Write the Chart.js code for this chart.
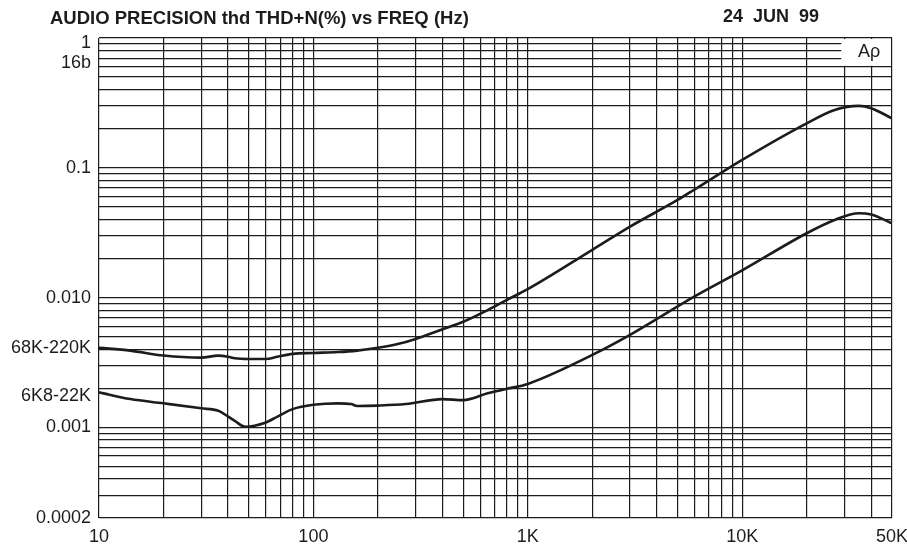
<!DOCTYPE html>
<html>
<head>
<meta charset="utf-8">
<script src="https://cdn.jsdelivr.net/npm/chart.js@4/dist/chart.umd.min.js"></script>
<style>
  html, body { margin: 0; padding: 0; background: #fff; }
</style>
</head>
<body>
<canvas id="thdChart" width="907" height="545"></canvas>
<script>
// upper curve (68K-220K)
const freqUpper = [10, 14, 20, 30, 36, 40, 43, 50, 60, 68, 80, 100, 130, 160, 200, 250, 300, 400, 500, 650, 800, 1000, 2000, 3000, 5000, 6000, 10000, 20000, 27000, 35000, 40000, 50000];
const thdUpper  = [0.0041, 0.0039, 0.00357, 0.00344, 0.00357, 0.0035, 0.0034, 0.00336, 0.00336, 0.0035, 0.00368, 0.00374, 0.0038, 0.0039, 0.0041, 0.0044, 0.0048, 0.0057, 0.0065, 0.008, 0.0096, 0.0116, 0.0233, 0.0352, 0.0565, 0.068, 0.115, 0.22, 0.279, 0.30, 0.288, 0.24];

// lower curve (6K8-22K)
const freqLower = [10, 14, 20, 30, 36, 40, 43, 48, 60, 68, 80, 100, 130, 150, 160, 200, 270, 400, 500, 650, 800, 1000, 2000, 3000, 6000, 10000, 20000, 27000, 35000, 40000, 50000];
const thdLower  = [0.00186, 0.00165, 0.00153, 0.0014, 0.00134, 0.00121, 0.00112, 0.00101, 0.00109, 0.00121, 0.00138, 0.00149, 0.00153, 0.00151, 0.00146, 0.00147, 0.00151, 0.00165, 0.00162, 0.00183, 0.00198, 0.00216, 0.00361, 0.00515, 0.0102, 0.0162, 0.0313, 0.0396, 0.0446, 0.0436, 0.0373];

// tick labels
const xLabelValues = [10, 100, 1000, 10000, 50000];
const xLabelText   = ['10', '100', '1K', '10K', '50K'];
const yLabelValues = [0.92, 0.642, 0.1, 0.01, 0.00409, 0.00173, 0.001, 0.0002];
const yLabelText   = ['1', '16b', '0.1', '0.010', '68K-220K', '6K8-22K', '0.001', '0.0002'];

const titleText = 'AUDIO PRECISION thd THD+N(%) vs FREQ (Hz)';
const dateText = '24  JUN  99';

// log paper grid lines: 1..9 per decade
let xGrid = [];
for (let d = 10; d <= 10000; d *= 10) {
    for (let m = 1; m <= 9; m++) {
        if (d * m <= 50000) xGrid.push(d * m);
    }
}
let yGrid = [];
for (let d = 0.0001; d < 1; d *= 10) {
    for (let m = 1; m <= 9; m++) {
        let v = +(d * m).toPrecision(3);
        if (v >= 0.0002) yGrid.push(v);
    }
}
yGrid.push(1);

const ink = '#1c1c1c';
const font = 'Liberation Sans, Arial, Helvetica, sans-serif';

const paperPlugin = {
    id: 'paper',
    beforeDatasetsDraw(chart) {
        const ctx = chart.ctx;
        const xs = chart.scales.x, ys = chart.scales.y;
        const l = xs.getPixelForValue(29000);
        const r = chart.chartArea.right - 1;
        const t = chart.chartArea.top + 1;
        const b = ys.getPixelForValue(0.6) - 1;
        ctx.save();
        ctx.fillStyle = '#fff';
        ctx.fillRect(l, t, r - l, b - t);
        ctx.fillStyle = ink;
        ctx.font = '18px ' + font;
        ctx.textAlign = 'center';
        ctx.textBaseline = 'middle';
        ctx.fillText('A\u03c1', (l + r) / 2 + 3, (t + b) / 2);
        ctx.restore();
    },
    afterDraw(chart) {
        const ctx = chart.ctx;
        ctx.save();
        ctx.fillStyle = ink;
        ctx.font = 'bold 18.5px ' + font;
        ctx.textBaseline = 'middle';
        ctx.textAlign = 'left';
        ctx.fillText(titleText, 50, 19);
        ctx.font = 'bold 18px ' + font;
        ctx.fillText(dateText, 723, 17);
        ctx.restore();
    }
};

const noPad = axis => { axis.paddingLeft = 0; axis.paddingRight = 0; axis.paddingTop = 0; axis.paddingBottom = 0; };

const data = {
    datasets: [
        {
            data: freqUpper.map((f, i) => ({ x: f, y: thdUpper[i] })),
            borderColor: ink,
            borderWidth: 2.6,
            pointRadius: 0,
            showLine: true,
            fill: false,
            cubicInterpolationMode: 'monotone'
        },
        {
            data: freqLower.map((f, i) => ({ x: f, y: thdLower[i] })),
            borderColor: ink,
            borderWidth: 2.6,
            pointRadius: 0,
            showLine: true,
            fill: false,
            cubicInterpolationMode: 'monotone'
        }
    ]
};

const config = {
    type: 'scatter',
    data: data,
    plugins: [paperPlugin],
    options: {
        responsive: false,
        animation: false,
        layout: { padding: { top: 38, right: 15, left: 0, bottom: 0 } },
        plugins: {
            legend: { display: false },
            tooltip: { enabled: false }
        },
        scales: {
            x: {
                type: 'logarithmic',
                position: 'bottom',
                min: 10,
                max: 50000,
                afterBuildTicks: axis => { axis.ticks = xGrid.map(v => ({ value: v })); },
                afterFit: axis => { axis.height = 0; noPad(axis); },
                ticks: { display: false },
                grid: { color: ink, lineWidth: 1.2, drawTicks: false },
                border: { display: false }
            },
            xLabels: {
                type: 'logarithmic',
                position: 'bottom',
                min: 10,
                max: 50000,
                afterBuildTicks: axis => { axis.ticks = xLabelValues.map(v => ({ value: v })); },
                afterFit: axis => { axis.height = 27; noPad(axis); },
                ticks: {
                    autoSkip: false,
                    maxRotation: 0,
                    padding: 8,
                    color: ink,
                    font: { family: font, size: 18 },
                    callback: (v, i) => xLabelText[i]
                },
                grid: { display: false, drawTicks: false },
                border: { display: false }
            },
            y: {
                type: 'logarithmic',
                position: 'left',
                min: 0.0002,
                max: 1,
                afterBuildTicks: axis => { axis.ticks = yGrid.map(v => ({ value: v })); },
                afterFit: axis => { axis.width = 0; noPad(axis); },
                ticks: { display: false },
                grid: { color: ink, lineWidth: 1.2, drawTicks: false },
                border: { display: false }
            },
            yLabels: {
                type: 'logarithmic',
                position: 'left',
                min: 0.0002,
                max: 1,
                afterBuildTicks: axis => { axis.ticks = yLabelValues.map(v => ({ value: v })); },
                afterFit: axis => { axis.width = 99; noPad(axis); },
                ticks: {
                    autoSkip: false,
                    padding: 8,
                    color: ink,
                    font: { family: font, size: 18 },
                    callback: (v, i) => yLabelText[i]
                },
                grid: { display: false, drawTicks: false },
                border: { display: false }
            }
        }
    }
};

new Chart(document.getElementById('thdChart'), config);
</script>
</body>
</html>
